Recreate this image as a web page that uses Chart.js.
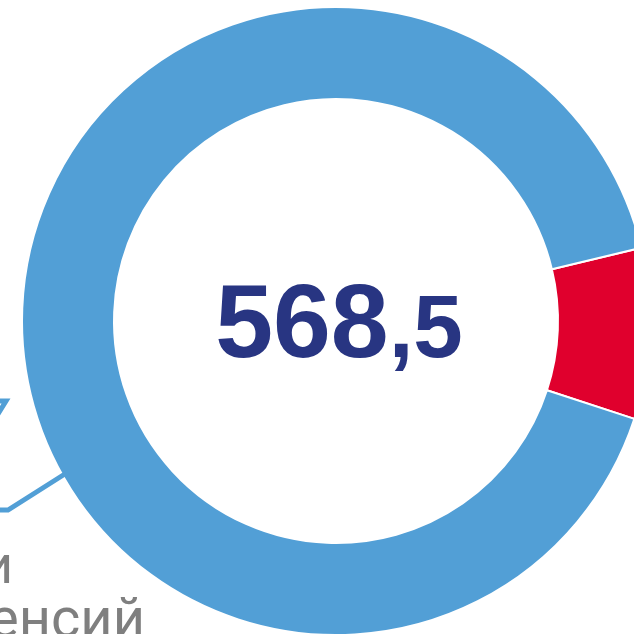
<!DOCTYPE html>
<html>
<head>
<meta charset="utf-8">
<script src="https://cdn.jsdelivr.net/npm/chart.js@4"></script>
<style>
    html, body { margin: 0; padding: 0; background: #fff; overflow: hidden; width: 634px; height: 634px; }
    #wrap { position: absolute; left: 0; top: 0; width: 700px; height: 700px; }
</style>
</head>
<body>
<div id="wrap"><canvas id="donut" width="700" height="700"></canvas></div>
<script>
const labels = ['Прочие', 'Основные'];
const values = [50, 518.5];
const colors = ['#e0002d', '#529fd6'];
const totalText = ['568', ',5'];
const sideText = ['и', 'пенсий'];

// подписи и выноски поверх диаграммы
const overlayPlugin = {
    id: 'overlay',
    afterDraw(chart) {
        const ctx = chart.ctx;
        const meta = chart.getDatasetMeta(0).data[0];
        const cx = meta.x;
        ctx.save();

        // число в центре
        ctx.fillStyle = '#283582';
        ctx.textBaseline = 'alphabetic';
        ctx.font = 'bold 104px "Liberation Sans", Arial, sans-serif';
        const w1 = ctx.measureText(totalText[0]).width;
        ctx.font = 'bold 89px "Liberation Sans", Arial, sans-serif';
        const w2 = ctx.measureText(totalText[1]).width;
        const x0 = cx - (w1 + w2) / 2 + 3;
        ctx.font = 'bold 104px "Liberation Sans", Arial, sans-serif';
        ctx.fillText(totalText[0], x0, 357);
        ctx.font = 'bold 89px "Liberation Sans", Arial, sans-serif';
        ctx.fillText(totalText[1], x0 + w1, 357);

        // выноска
        ctx.strokeStyle = '#529fd6';
        ctx.lineWidth = 5;
        ctx.lineJoin = 'miter';
        ctx.beginPath();
        ctx.moveTo(68, 472);
        ctx.lineTo(8, 510);
        ctx.lineTo(-10, 510);
        ctx.stroke();
        ctx.beginPath();
        ctx.moveTo(-6, 401);
        ctx.lineTo(6, 401);
        ctx.lineTo(-2, 414);
        ctx.stroke();

        // подпись слева
        ctx.fillStyle = '#7f7f7f';
        ctx.textAlign = 'right';
        ctx.font = '53px Roboto, sans-serif';
        ctx.fillText(sideText[0], 13, 583);
        ctx.font = '56px Roboto, sans-serif';
        ctx.fillText(sideText[1], 145, 637);
        ctx.restore();
    }
};

new Chart(document.getElementById('donut').getContext('2d'), {
    type: 'doughnut',
    data: {
        labels: labels,
        datasets: [{
            data: values,
            backgroundColor: colors,
            borderColor: '#ffffff',
            borderWidth: 2,
            hoverOffset: 0
        }]
    },
    options: {
        responsive: false,
        animation: false,
        cutout: '70.7%',
        rotation: 76.5,
        layout: { padding: { left: 21, top: 6, right: 49, bottom: 64 } },
        plugins: {
            legend: { display: false },
            tooltip: { enabled: false }
        }
    },
    plugins: [overlayPlugin]
});
</script>
</body>
</html>
